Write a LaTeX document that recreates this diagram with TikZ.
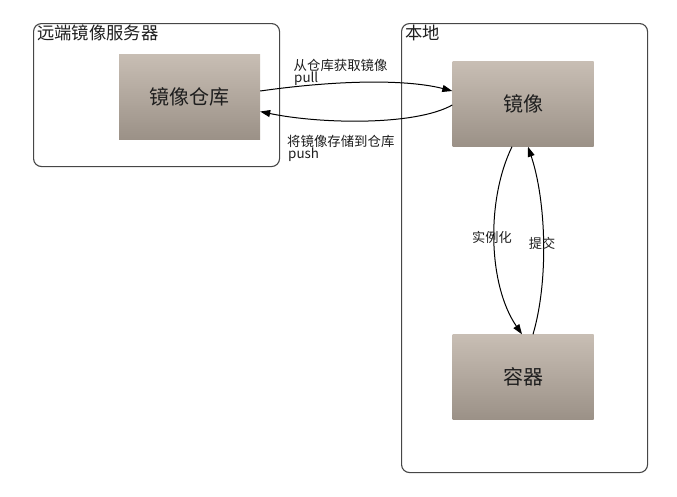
\documentclass[tikz,border=0pt]{standalone}
\usepackage{fontspec}
\setmainfont{Noto Sans CJK SC}
\usetikzlibrary{arrows.meta}
\definecolor{boxtop}{RGB}{200,190,180}
\definecolor{boxbot}{RGB}{155,145,135}
\definecolor{frame}{RGB}{70,70,70}
\definecolor{txt}{RGB}{30,30,30}
\begin{document}
\begin{tikzpicture}[x=1pt,y=-1pt,
  container/.style={draw=frame,line width=1.1pt,rounded corners=8pt,anchor=north west,inner sep=0pt},
  title/.style={anchor=west,inner sep=0pt,text=txt,font=\fontsize{17.3}{19}\selectfont},
  gbox/.style={top color=boxtop,bottom color=boxbot,draw=none,minimum width=141pt,minimum height=85pt,inner sep=0pt,text=txt,font=\fontsize{20}{22}\selectfont},
  arr/.style={draw=black,line width=1pt,-{Triangle[length=10pt,width=7pt]}},
  lab/.style={inner sep=0pt,text=txt,font=\fontsize{13.4}{15}\selectfont,anchor=base west},
  vlab/.style={inner sep=0pt,text=txt,font=\fontsize{13.2}{15}\selectfont}
  ]
\useasboundingbox (0,0) rectangle (677,496);
\node[container,minimum width=246pt,minimum height=143pt] (remote) at (33,23) {};
\node[container,minimum width=246pt,minimum height=449pt] (local) at (401,23) {};
\node[title] (remoteT) at (37,33) {远端镜像服务器};
\node[title] (localT) at (405,33) {本地};
\node[gbox] (repo) at (189.5,96.5) {镜像仓库};
\node[gbox] (img) at (523,104) {镜像};
\node[gbox] (ctr) at (523,377) {容器};
% pull
\draw[arr] ([yshift=5.5pt]repo.east) .. controls (345,79) and (410,80) .. ([yshift=13pt]img.west);
\node[lab] (pullA) at (293.5,70) {从仓库获取镜像};
\node[lab] (pullB) at (294,82.3) {pull};
% push
\draw[arr] ([yshift=-1pt]img.west) .. controls (415,126) and (320,124) .. ([yshift=-15pt]repo.east);
\node[lab] (pushA) at (287,146.5) {将镜像存储到仓库};
\node[lab] (pushB) at (288,158.5) {push};
% instantiate
\draw[arr] ([xshift=-11pt]img.south) .. controls (486,200) and (488,285) .. ([xshift=-1pt]ctr.north);
\node[vlab] (instL) at (492,237) {实例化};
% commit
\draw[arr] ([xshift=10pt]ctr.north) .. controls (549,280) and (546,200) .. ([xshift=5pt]img.south);
\node[vlab] (commitL) at (542,243) {提交};
\end{tikzpicture}
\end{document}
